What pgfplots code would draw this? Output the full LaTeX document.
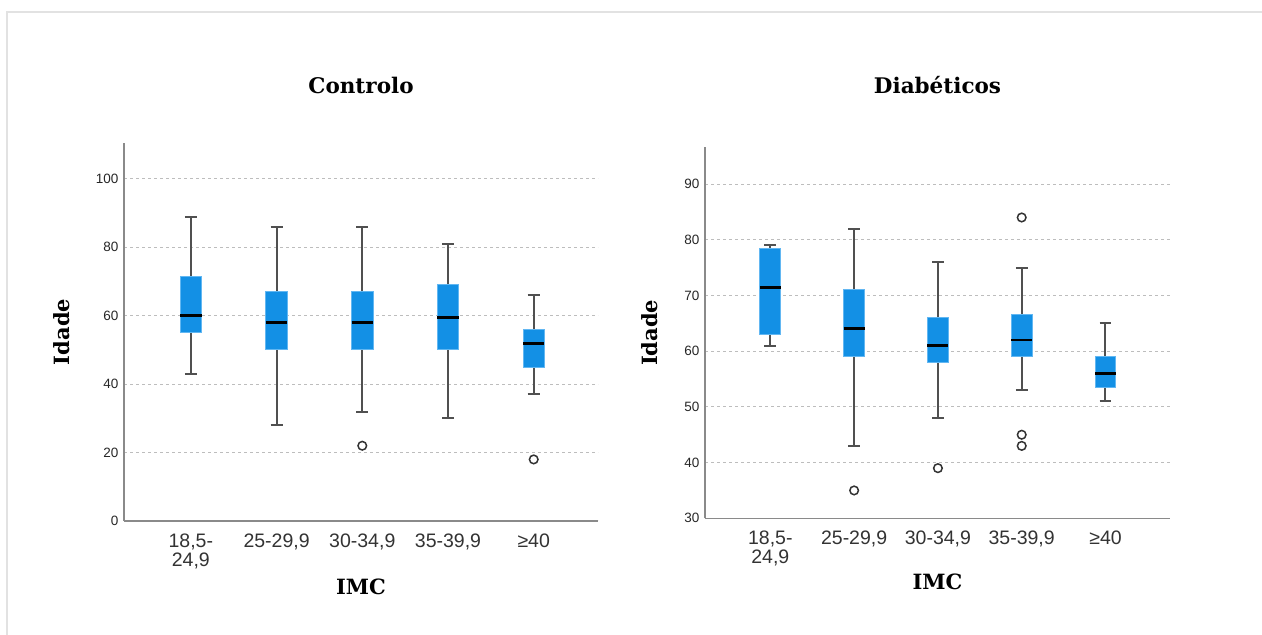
\documentclass[border=0pt]{standalone}
\usepackage{fontspec}
\setmainfont{Liberation Sans}
\newfontfamily\labfont{DejaVu Serif}
\usepackage{pgfplots}
\pgfplotsset{compat=1.18}
\usepgfplotslibrary{statistics}
\definecolor{boxblue}{HTML}{1390E5}
\definecolor{boxedge}{HTML}{62B7F2}
\definecolor{whisk}{HTML}{505050}
\definecolor{gridc}{HTML}{BDBDBD}
\definecolor{axc}{HTML}{8A8A8A}
\definecolor{framec}{HTML}{E2E2E2}
\pgfplotsset{
  mybox/.style={
    scale only axis,
    axis x line*=bottom, axis y line*=left,
    axis line style={axc, line width=1.3pt},
    major tick length=0pt,
    ymajorgrids,
    grid style={gridc, line width=1pt, dash pattern=on 3pt off 3pt},
    xtick={0,1,2,3,4},
    xticklabels={{18,5-\\24,9},{25-29,9},{30-34,9},{35-39,9},{≥40}},
    x tick label style={font=\fontsize{19.5}{19}\selectfont, text=black!80, align=center, anchor=north, yshift=-9pt},
    y tick label style={font=\fontsize{13.5}{15}\selectfont, text=black!85, xshift=-2pt},
    /pgf/number format/assume math mode=true,
    title style={font=\labfont\bfseries\fontsize{21.5}{24}\selectfont},
    xlabel style={font=\labfont\bfseries\fontsize{21}{24}\selectfont},
    ylabel style={font=\labfont\bfseries\fontsize{21}{24}\selectfont},
    boxplot/draw direction=y,
    boxplot/box extend=0.25,
    boxplot/whisker extend=0.14,
    boxplot/every box/.style={fill=boxblue, draw=boxedge, line width=1pt},
    boxplot/every whisker/.style={draw=whisk, line width=2pt},
    boxplot/every median/.style={draw=black, line width=2.8pt},
    clip=false,
  },
  bp/.style={mark=o, mark size=4.3pt, mark options={draw=black!80, line width=1.5pt, fill=none}},
}
\begin{document}
\begin{tikzpicture}
\useasboundingbox (0,0) rectangle (1262pt,635pt);
\fill[white] (0,0) rectangle (1262pt,635pt);
\draw[framec, line width=1.5pt] (7pt,0) -- (7pt,623pt) -- (1262pt,623pt);

% Controlo
\begin{axis}[mybox,
  at={(124pt,114pt)}, anchor=south west,
  width=474pt, height=378pt,
  xmin=-0.78, xmax=4.75, ymin=0, ymax=110.5,
  ytick={0,20,40,60,80,100},
  title={Controlo},
  title style={at={(axis description cs:0.5,1)}, anchor=center, yshift=52pt},
  xlabel={IMC},
  xlabel style={at={(axis description cs:0.5,0)}, anchor=center, yshift=-66pt},
  ylabel={Idade},
  ylabel style={at={(axis description cs:0,0.5)}, anchor=center, yshift=62pt},
]
\addplot[bp, boxplot prepared={draw position=0, lower whisker=43, lower quartile=55, median=60, upper quartile=71.5, upper whisker=89}] coordinates {};
\addplot[bp, boxplot prepared={draw position=1, lower whisker=28, lower quartile=50, median=58, upper quartile=67, upper whisker=86}] coordinates {};
\addplot[bp, boxplot prepared={draw position=2, lower whisker=32, lower quartile=50, median=58, upper quartile=67, upper whisker=86}] coordinates {(0,22)};
\addplot[bp, boxplot prepared={draw position=3, lower whisker=30, lower quartile=50, median=59.5, upper quartile=69, upper whisker=81}] coordinates {};
\addplot[bp, boxplot prepared={draw position=4, lower whisker=37, lower quartile=45, median=52, upper quartile=56, upper whisker=66}] coordinates {(0,18)};
\end{axis}

% Diabeticos
\begin{axis}[mybox,
  at={(705pt,116.7pt)}, anchor=south west,
  width=465pt, height=371pt,
  xmin=-0.78, xmax=4.77, ymin=30, ymax=96.6,
  ytick={30,40,50,60,70,80,90},
  title={Diabéticos},
  title style={at={(axis description cs:0.5,1)}, anchor=center, yshift=56pt},
  xlabel={IMC},
  xlabel style={at={(axis description cs:0.5,0)}, anchor=center, yshift=-64pt},
  ylabel={Idade},
  ylabel style={at={(axis description cs:0,0.5)}, anchor=center, yshift=55pt},
]
\addplot[bp, boxplot prepared={draw position=0, lower whisker=61, lower quartile=63, median=71.5, upper quartile=78.4, upper whisker=79}] coordinates {};
\addplot[bp, boxplot prepared={draw position=1, lower whisker=43, lower quartile=59, median=64, upper quartile=71, upper whisker=82}] coordinates {(0,35)};
\addplot[bp, boxplot prepared={draw position=2, lower whisker=48, lower quartile=58, median=61, upper quartile=66, upper whisker=76}] coordinates {(0,39)};
\addplot[bp, boxplot prepared={draw position=3, lower whisker=53, lower quartile=59, median=62, upper quartile=66.5, upper whisker=75}] coordinates {(0,84) (0,45) (0,43)};
\addplot[bp, boxplot prepared={draw position=4, lower whisker=51, lower quartile=53.5, median=56, upper quartile=59, upper whisker=65}] coordinates {};
\end{axis}
\end{tikzpicture}
\end{document}
